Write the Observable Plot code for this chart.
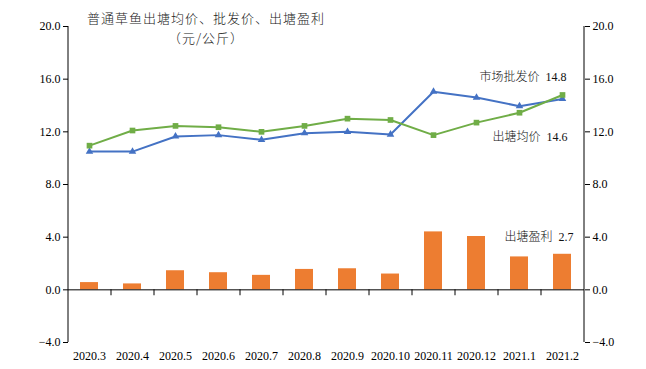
<!DOCTYPE html>
<html><head><meta charset="utf-8">
<script src="https://cdn.jsdelivr.net/npm/d3@7"></script>
<script src="https://cdn.jsdelivr.net/npm/@observablehq/plot@0.6"></script>
<style>
body{margin:0;background:#fff;}
#wrap{position:relative;width:646px;height:369px;}
.title{position:absolute;left:0;width:412px;text-align:center;font-family:"Noto Sans CJK SC",sans-serif;font-size:13px;line-height:14px;color:#222;letter-spacing:1px;font-weight:300;z-index:2}
</style></head><body>
<div id="wrap"><div class="title" style="top:11px">普通草鱼出塘均价、批发价、出塘盈利</div><div class="title" style="top:31px">（元/公斤）</div></div>
<script>
const months = ["2020.3","2020.4","2020.5","2020.6","2020.7","2020.8","2020.9","2020.10","2020.11","2020.12","2021.1","2021.2"];
const profit = [0.55,0.45,1.45,1.3,1.1,1.55,1.6,1.2,4.4,4.05,2.5,2.7];
const pondPrice = [10.5,10.5,11.65,11.75,11.4,11.9,12.0,11.8,15.05,14.6,13.95,14.5];
const wholesale = [10.95,12.1,12.45,12.35,12.0,12.45,13.0,12.9,11.75,12.7,13.45,14.8];
const yTicks = [-4,0,4,8,12,16,20];
const seriesNames = ["市场批发价","出塘均价","出塘盈利"];
const lastLabels = ["14.8","14.6","2.7"];

const data = months.map((m,i)=>({month:m, profit:profit[i], pond:pondPrice[i], wholesale:wholesale[i]}));
const last = months.length-1;
const font = '"Liberation Serif","Noto Sans CJK SC",serif';
function note(v, t, dx, dy) {
  return Plot.text([{month:months[last], v, t}], {x:"month", y:"v", text:"t", dx, dy, textAnchor:"end", fontFamily:font, fontSize:12, fontWeight:300, fill:"#111"});
}
const chart = Plot.plot({
  width:646, height:369, marginLeft:68, marginRight:62, marginTop:26, marginBottom:27,
  style:{fontFamily:font, fontSize:"12px", color:"#000", background:"#fff", overflow:"visible"},
  x:{domain:months, paddingInner:0.58, paddingOuter:0.29, label:null},
  y:{domain:[-4,20], label:null},
  marks:[
    Plot.barY(data,{x:"month", y:"profit", fill:"#ED7D31"}),
    Plot.ruleY([0],{stroke:"#000"}),
    Plot.ruleX(months.slice(1),{x:d=>d, y1:0, y2:-0.45, dx:-21.5, stroke:"#000"}),
    Plot.line(data,{x:"month", y:"pond", stroke:"#4472C4", strokeWidth:2}),
    Plot.dot(data,{x:"month", y:"pond", symbol:"triangle", fill:"#4472C4", r:2.8}),
    Plot.line(data,{x:"month", y:"wholesale", stroke:"#70AD47", strokeWidth:2}),
    Plot.dot(data,{x:"month", y:"wholesale", symbol:"square", fill:"#70AD47", r:3.2}),
    Plot.axisY({anchor:"left", ticks:yTicks, tickFormat:".1f", tickSize:5, tickPadding:3, label:null}),
    Plot.axisY({anchor:"right", ticks:yTicks, tickFormat:".1f", tickSize:5, tickPadding:3, label:null}),
    Plot.axisX({anchor:"bottom", tickSize:0, tickPadding:9, label:null}),
    note(wholesale[last], seriesNames[0]+"  "+lastLabels[0], 4, -18),
    note(pondPrice[last], seriesNames[1]+"  "+lastLabels[1], 5, 38),
    note(profit[last], seriesNames[2]+"  "+lastLabels[2], 11, -17)
  ]
});
const sx = chart.scale("x"), sy = chart.scale("y");
const svg = d3.select(chart);
const [x0,x1] = sx.range, [yb,yt] = sy.range;
svg.append("line").attr("x1",x0).attr("x2",x0).attr("y1",yt).attr("y2",yb).attr("stroke","#000");
svg.append("line").attr("x1",x1).attr("x2",x1).attr("y1",yt).attr("y2",yb).attr("stroke","#000");
document.getElementById("wrap").appendChild(chart);
</script>
</body></html>
